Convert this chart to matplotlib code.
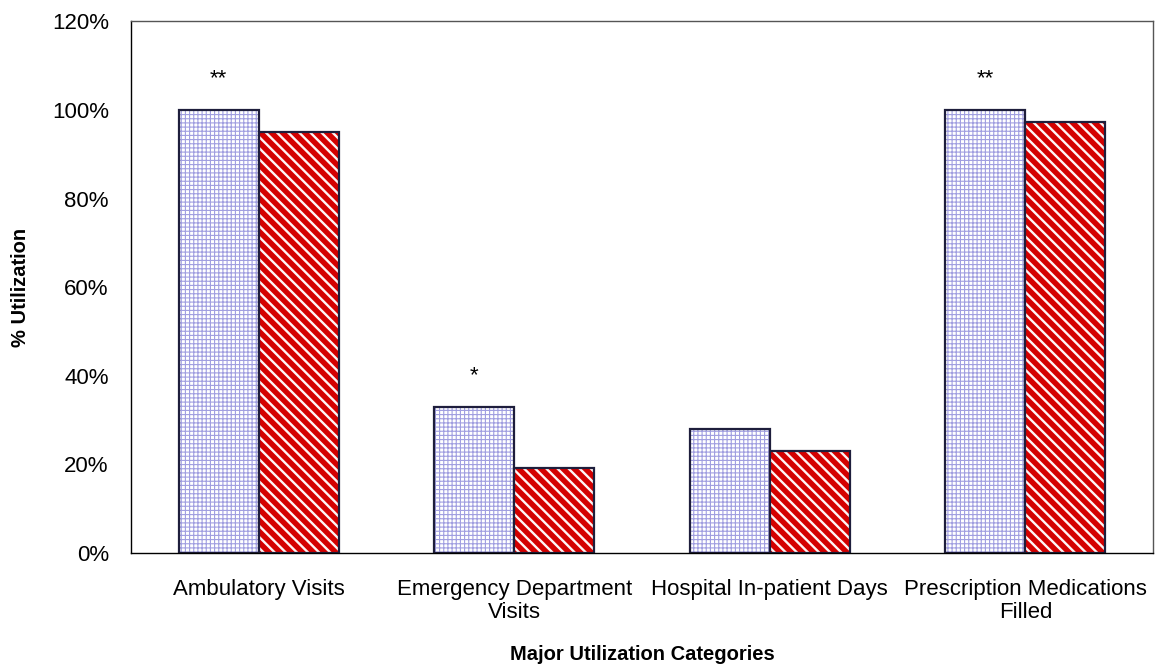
import numpy as np
import matplotlib
matplotlib.use("Agg")
from matplotlib import pyplot as plt

categories = ["Ambulatory Visits", "Emergency Department\nVisits",
              "Hospital In-patient Days", "Prescription Medications\nFilled"]
group_a = [100, 33, 28, 100]
group_b = [95, 19.2, 23, 97.3]
stars = ["**", "*", "", "**"]

plt.rcParams['font.family'] = ['Liberation Sans', 'DejaVu Sans']
plt.rcParams['hatch.linewidth'] = 0.8

fig = plt.figure(figsize=(11.55, 6.67), dpi=100)
ax = fig.add_axes([0.1134, 0.1709, 0.885, 0.797])

x = np.arange(len(categories))
w = 0.313

# blue grid bars: hatch in lavender, then dark outline on top
ax.bar(x - w/2, group_a, w, color="white", edgecolor="#a09ee0", hatch="++++", linewidth=0)
ax.bar(x - w/2, group_a, w, color="none", edgecolor="#1e1e3c", linewidth=1.6)

plt.rcParams['hatch.linewidth'] = 1.7
ax.bar(x + w/2, group_b, w, color="#d40000", edgecolor="#fff4f4", hatch="\\\\\\", linewidth=0)
ax.bar(x + w/2, group_b, w, color="none", edgecolor="#1e1e3c", linewidth=1.6)

for i, s in enumerate(stars):
    if s:
        ax.text(x[i] - w/2, group_a[i] + 7, s, ha="center", va="center", fontsize=16)

ax.set_xlim(-0.5, 3.5)
ax.set_ylim(0, 120)
ax.set_yticks(np.arange(0, 121, 20))
ax.set_yticklabels([f"{v}%" for v in range(0, 121, 20)])
ax.set_xticks(x)
ax.set_xticklabels(categories, linespacing=1.1)
ax.tick_params(axis="y", length=0, pad=16, labelsize=16)
ax.tick_params(axis="x", length=0, pad=19, labelsize=16)

for sp in ax.spines.values():
    sp.set_linewidth(1.0)
    sp.set_color("#555555")
ax.spines["bottom"].set_color("black")
ax.spines["left"].set_color("black")

ax.set_xlabel("Major Utilization Categories", fontsize=14.5, fontweight="bold", labelpad=16)
ax.set_ylabel("% Utilization", fontsize=14.5, fontweight="bold", labelpad=16)

fig.savefig("out.png", dpi=100)
